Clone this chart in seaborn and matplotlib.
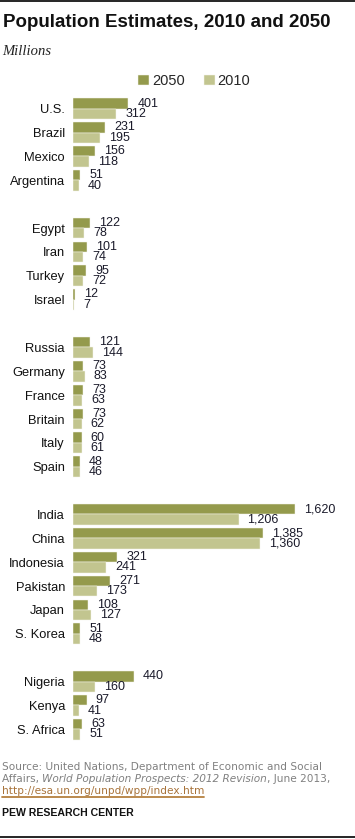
import numpy as np
import pandas as pd
import matplotlib.pyplot as plt
import seaborn as sns

sns.set_style("white")
plt.rcParams["font.family"] = ["Liberation Sans", "DejaVu Sans"]

DARK = "#949A4C"    # 2050
LIGHT = "#C2C58F"   # 2010

countries = ["U.S.", "Brazil", "Mexico", "Argentina",
             "Egypt", "Iran", "Turkey", "Israel",
             "Russia", "Germany", "France", "Britain", "Italy", "Spain",
             "India", "China", "Indonesia", "Pakistan", "Japan", "S. Korea",
             "Nigeria", "Kenya", "S. Africa"]
pop_2050 = [401, 231, 156, 51,
            122, 101, 95, 12,
            121, 73, 73, 73, 60, 48,
            1620, 1385, 321, 271, 108, 51,
            440, 97, 63]
pop_2010 = [312, 195, 118, 40,
            78, 74, 72, 7,
            144, 83, 63, 62, 61, 46,
            1206, 1360, 241, 173, 127, 48,
            160, 41, 51]
years = ["2050", "2010"]

# blank rows separate the regional groups
order = (countries[0:4] + [" "] + countries[4:8] + ["  "] + countries[8:14]
         + ["   "] + countries[14:20] + ["    "] + countries[20:23])

df = pd.DataFrame({
    "Country": countries * 2,
    "Year": ["2050"] * len(countries) + ["2010"] * len(countries),
    "Population": pop_2050 + pop_2010,
})

fig = plt.figure(figsize=(3.55, 8.39), dpi=100)
W, H = 355, 839
ax = fig.add_axes([73.3 / W, 1 - 741.2 / H, 274 / W, 644.4 / H])

sns.barplot(data=df, y="Country", x="Population", hue="Year", order=order,
            hue_order=years, palette={"2050": DARK, "2010": LIGHT},
            saturation=1, orient="h", width=0.87, edgecolor="#f4f4ec",
            linewidth=0.35, errorbar=None, ax=ax)

ax.set_xlim(0, 2000)
ax.set_ylim(len(order) - 0.5, -0.5)
ax.set_xlabel("")
ax.set_ylabel("")
ax.set_xticks([])
ax.tick_params(axis="y", length=0, pad=6, labelsize=9.3, labelcolor="#111111")
sns.despine(ax=ax, left=True, bottom=True)

for container in ax.containers:
    ax.bar_label(container, labels=[f"{v:,.0f}" for v in container.datavalues],
                 padding=6.5, fontsize=9, color="#1a1a2a")

ax.legend(loc="upper left", bbox_to_anchor=(138 / W, 1 - 74 / H),
          bbox_transform=fig.transFigure, ncol=2, frameon=False,
          fontsize=10.5, handlelength=0.75, handleheight=0.75,
          handletextpad=0.2, columnspacing=1.3, borderpad=0, borderaxespad=0)

# title block
fig.text(3 / W, 1 - 27 / H, "Population Estimates, 2010 and 2050",
         fontsize=13.5, fontweight="bold", color="#111111", va="baseline")
fig.text(2 / W, 1 - 55 / H, "Millions", fontsize=10.5, fontstyle="italic",
         family=["Liberation Serif", "DejaVu Serif"], color="#222222",
         va="baseline")

# source block, pieces placed one after another
src = dict(fontsize=7.6, color="#808080", family=["DejaVu Sans"], va="baseline")
fig.text(2 / W, 1 - 770.5 / H,
         "Source: United Nations, Department of Economic and Social", **src)
renderer = fig.canvas.get_renderer()
x = 2
for piece, style in [("Affairs, ", "normal"),
                     ("World Population Prospects: 2012 Revision", "italic"),
                     (", June 2013,", "normal")]:
    t = fig.text(x / W, 1 - 782 / H, piece, fontstyle=style, **src)
    x += t.get_window_extent(renderer).width
link = fig.text(2 / W, 1 - 793.5 / H, "http://esa.un.org/unpd/wpp/index.htm",
                fontsize=7.6, color="#a8733a", family=["DejaVu Sans"],
                va="baseline")
lw = link.get_window_extent(renderer).width
fig.add_artist(plt.Line2D([2 / W, (2 + lw) / W], [1 - 796.8 / H, 1 - 796.8 / H],
                          color="#b5803f", lw=1.3))
fig.text(2 / W, 1 - 816 / H, "PEW RESEARCH CENTER", fontsize=7.6,
         fontweight="bold", color="#111111", va="baseline")

# rules at top and bottom
fig.add_artist(plt.Line2D([0, 1], [1 - 1 / H, 1 - 1 / H], color="black", lw=1.2))
fig.add_artist(plt.Line2D([0, 1], [1 - 836.5 / H, 1 - 836.5 / H], color="black", lw=1.2))

fig.savefig("out.png", dpi=100)
